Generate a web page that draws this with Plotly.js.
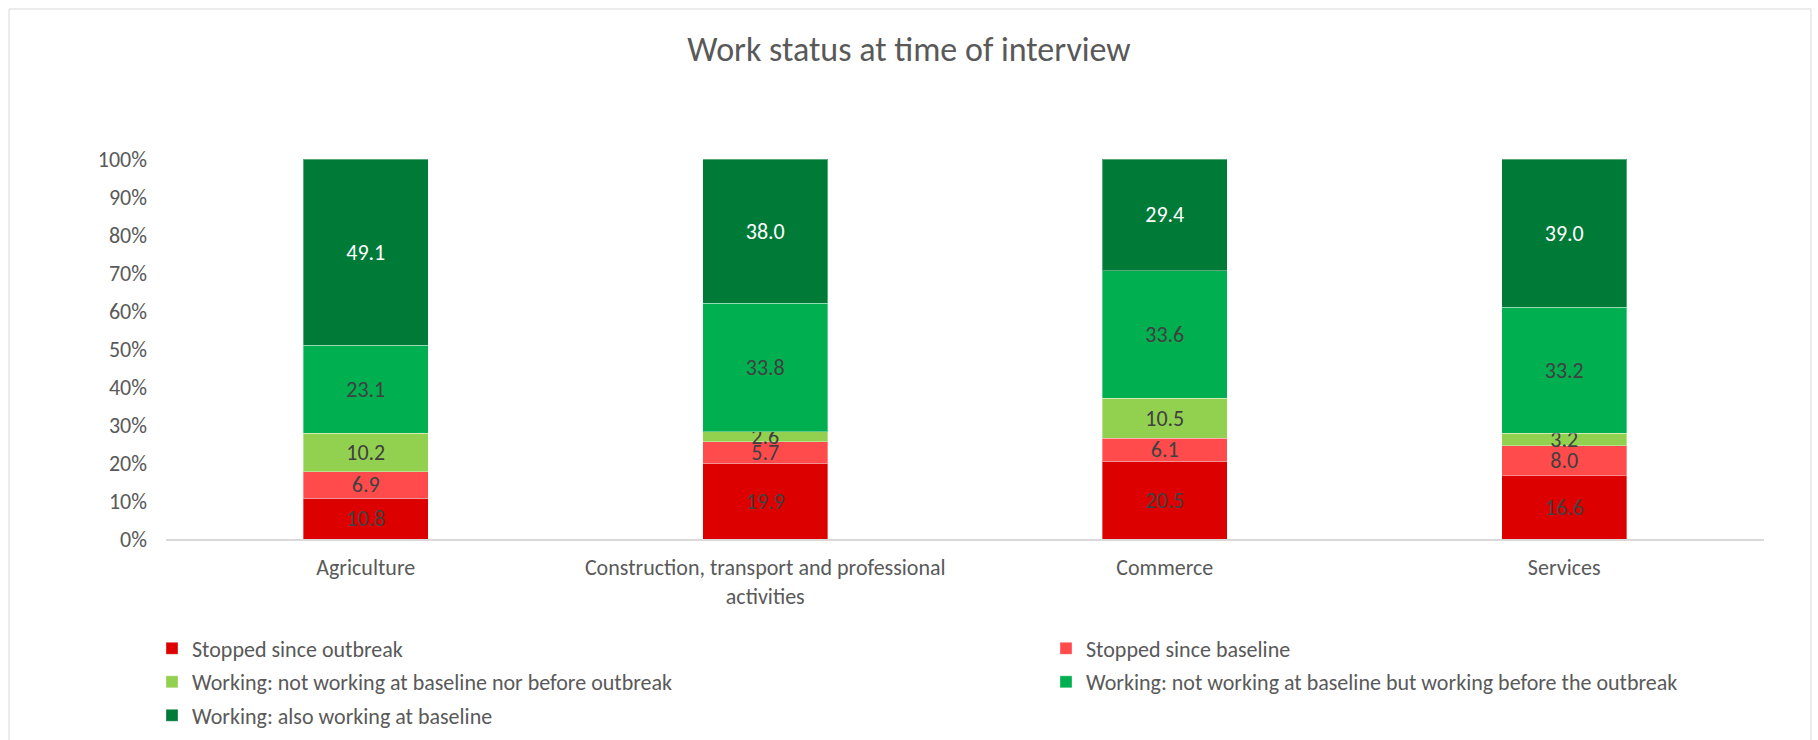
<!DOCTYPE html>
<html>
<head>
<meta charset="utf-8">
<script src="https://cdn.plot.ly/plotly-3.0.1.min.js"></script>
<style>html,body{margin:0;padding:0;background:#fff;}#chart{width:1818px;height:740px;}</style>
</head>
<body>
<div id="chart"></div>
<script>
const categories = ["Agriculture", "Construction, transport and professional<br>activities", "Commerce", "Services"];
const seriesNames = [
  "Stopped since outbreak",
  "Stopped since baseline",
  "Working: not working at baseline nor before outbreak",
  "Working: not working at baseline but working before the outbreak",
  "Working: also working at baseline"
];
const stoppedOutbreak = [10.8, 19.9, 20.5, 16.6];
const stoppedBaseline = [6.9, 5.7, 6.1, 8.0];
const workingNeither = [10.2, 2.6, 10.5, 3.2];
const workingBeforeOutbreak = [23.1, 33.8, 33.6, 33.2];
const workingAlso = [49.1, 38.0, 29.4, 39.0];
const yTickVals = [0, 10, 20, 30, 40, 50, 60, 70, 80, 90, 100];

const seriesValues = [stoppedOutbreak, stoppedBaseline, workingNeither, workingBeforeOutbreak, workingAlso];
const colors = ["#DD0000", "#FF4B4B", "#92D050", "#00B050", "#007A37"];
const labelColors = ["#404040", "#404040", "#404040", "#404040", "#FFFFFF"];
const FONT = "Carlito, Calibri, 'Open Sans', sans-serif";
const FS = 22;

// legend slot placement (pixels in the 1818x740 figure): left edge, top edge
const legendIds = ["legend", "legend2", "legend3", "legend4", "legend5"];
const legendLeft = [152, 1046, 152, 1046, 152];
const legendTop = [627.5, 627.5, 661, 661, 694.5];

const traces = seriesValues.map((vals, i) => ({
  type: "bar",
  name: seriesNames[i],
  legend: legendIds[i],
  x: categories,
  y: vals,
  text: vals.map(v => v.toFixed(1)),
  texttemplate: "%{text}",
  textposition: "inside",
  insidetextanchor: "middle",
  constraintext: "none",
  textangle: 0,
  textfont: {family: FONT, size: FS, color: labelColors[i]},
  marker: {color: colors[i], line: {color: "rgba(255,255,255,0.35)", width: 1}},
  hoverinfo: "skip"
}));

const layout = {
  width: 1818,
  height: 740,
  barmode: "stack",
  barnorm: "percent",
  bargap: 0.687,
  paper_bgcolor: "#FFFFFF",
  plot_bgcolor: "#FFFFFF",
  margin: {l: 166, r: 54, t: 159, b: 201, pad: 0, autoexpand: false},
  font: {family: FONT, color: "#595959", size: FS},
  title: {
    text: "Work status at time of interview",
    font: {family: FONT, size: 34, color: "#595959"},
    x: 0.5, xref: "container", xanchor: "center",
    y: 1 - 49 / 740, yref: "container", yanchor: "middle"
  },
  xaxis: {
    type: "category",
    showline: true, linecolor: "#D9D9D9", linewidth: 1.5,
    showgrid: false, zeroline: false, ticks: "",
    tickangle: 0,
    tickfont: {family: FONT, size: FS, color: "#595959"},
    ticklabelstandoff: 8,
    fixedrange: true
  },
  yaxis: {
    range: [0, 100],
    tickvals: yTickVals,
    ticktext: yTickVals.map(v => v + "%"),
    showline: false, showgrid: false, zeroline: false, ticks: "",
    tickfont: {family: FONT, size: FS, color: "#595959"},
    ticklabelstandoff: 18,
    fixedrange: true
  },
  showlegend: true,
  shapes: [{
    type: "rect", xref: "paper", yref: "paper",
    x0: (9 - 166) / 1598, x1: (1811 - 166) / 1598,
    y0: (539 - 760) / 380, y1: (539 - 9) / 380,
    line: {color: "#D9D9D9", width: 1}, fillcolor: "rgba(0,0,0,0)", layer: "below"
  }]
};

legendIds.forEach((id, i) => {
  layout[id] = {
    orientation: "v",
    traceorder: "normal",
    xref: "container", yref: "container",
    xanchor: "left", yanchor: "top",
    x: legendLeft[i] / 1818,
    y: 1 - legendTop[i] / 740,
    font: {family: FONT, size: FS, color: "#595959"},
    bgcolor: "rgba(0,0,0,0)",
    borderwidth: 0
  };
});

Plotly.newPlot("chart", traces, layout, {displayModeBar: false, staticPlot: true});
</script>
</body>
</html>
